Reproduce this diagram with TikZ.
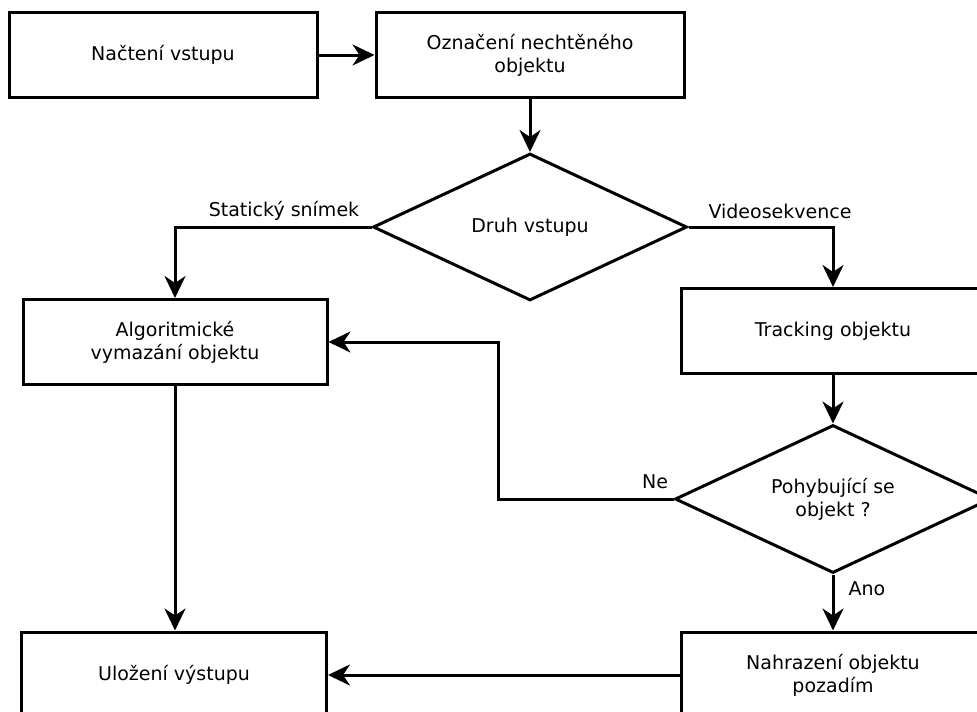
\documentclass[tikz,border=0pt]{standalone}
\usepackage{fontspec}
\setmainfont{DejaVu Sans}
\usetikzlibrary{arrows.meta,shapes.geometric}
\begin{document}
\begin{tikzpicture}[x=1pt,y=-1pt,
  every node/.style={font=\fontsize{19}{23}\selectfont},
  procbox/.style={draw,line width=3pt,rectangle,minimum width=308pt,minimum height=85pt,align=center,inner sep=0pt},
  decbox/.style={draw,line width=3pt,diamond,shape aspect=2.14,minimum width=314pt,minimum height=147pt,align=center,inner sep=0pt},
  lbl/.style={inner sep=0pt},
  arr/.style={line width=3pt,-{Stealth[length=22pt,width=21pt,inset=7pt]}}]
\useasboundingbox (0,0) rectangle (977,712);
\clip (0,0) rectangle (977,712);
\node[procbox] (b1) at (163,55) {Načtení vstupu};
\node[procbox] (b2) at (530,55) {Označení nechtěného\\objektu};
\node[decbox] (d1) at (530,227) {Druh vstupu};
\node[procbox,minimum width=304pt] (b3) at (175,342) {Algoritmické\\vymazání objektu};
\node[procbox,minimum width=304pt] (b4) at (833,331) {Tracking objektu};
\node[decbox,minimum width=316pt,minimum height=148pt] (d2) at (833,499) {Pohybující se\\objekt ?};
\node[procbox,minimum width=305pt,minimum height=86pt] (b5) at (174,675) {Uložení výstupu};
\node[procbox,minimum width=304pt,minimum height=86pt] (b6) at (833,675) {Nahrazení objektu\\pozadím};
\node[lbl] (l1) at (284,211) {Statický snímek};
\node[lbl] (l2) at (780,211) {Videosekvence};
\node[lbl] (l3) at (655,482) {Ne};
\node[lbl] (l4) at (867,589) {Ano};
\coordinate (c1) at (498,499);
\draw[arr] (b1.east) -- (b2.west);
\draw[arr] (b2.south) -- (d1.north);
\draw[arr] (d1.west) -| (b3.north);
\draw[arr] (d1.east) -| (b4.north);
\draw[arr] (b4.south) -- (d2.north);
\draw[arr] (d2.west) -- (c1) |- (b3.east);
\draw[arr] (d2.south) -- (b6.north);
\draw[arr] (b6.west) -- (b5.east);
\draw[arr] (b3.south) -- (b3.south |- b5.north);
\end{tikzpicture}
\end{document}
